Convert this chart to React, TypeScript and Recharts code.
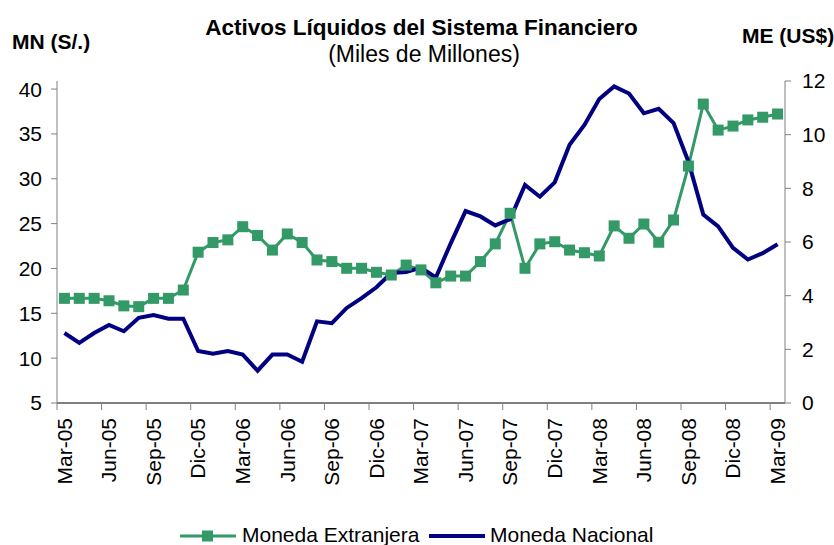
import { LineChart, Line, XAxis, YAxis } from "recharts";

const months = [
  "Mar-05", "Abr-05", "May-05", "Jun-05", "Jul-05", "Ago-05", "Sep-05", "Oct-05", "Nov-05", "Dic-05",
  "Ene-06", "Feb-06", "Mar-06", "Abr-06", "May-06", "Jun-06", "Jul-06", "Ago-06", "Sep-06", "Oct-06", "Nov-06", "Dic-06",
  "Ene-07", "Feb-07", "Mar-07", "Abr-07", "May-07", "Jun-07", "Jul-07", "Ago-07", "Sep-07", "Oct-07", "Nov-07", "Dic-07",
  "Ene-08", "Feb-08", "Mar-08", "Abr-08", "May-08", "Jun-08", "Jul-08", "Ago-08", "Sep-08", "Oct-08", "Nov-08", "Dic-08",
  "Ene-09", "Feb-09", "Mar-09",
];

// ME, miles de millones de US$ (eje derecho)
const monedaExtranjera = [
  3.9, 3.9, 3.9, 3.81, 3.62, 3.59, 3.9, 3.9, 4.21, 5.62,
  5.98, 6.08, 6.57, 6.24, 5.7, 6.3, 5.98, 5.33, 5.27, 5.02, 5.02, 4.87,
  4.77, 5.14, 4.96, 4.48, 4.73, 4.73, 5.27, 5.93, 7.07, 5.02, 5.93, 6.01,
  5.7, 5.6, 5.48, 6.6, 6.14, 6.67, 5.99, 6.82, 8.83, 11.14, 10.17, 10.32,
  10.55, 10.65, 10.77,
];

// MN, miles de millones de S/. (eje izquierdo)
const monedaNacional = [
  12.8, 11.7, 12.8, 13.7, 13.0, 14.5, 14.8, 14.4, 14.4, 10.8,
  10.5, 10.8, 10.4, 8.6, 10.4, 10.4, 9.6, 14.1, 13.9, 15.6, 16.7, 17.9,
  19.5, 19.6, 20.1, 19.0, 22.8, 26.4, 25.8, 24.8, 25.5, 29.3, 28.0, 29.6,
  33.8, 36.0, 38.9, 40.3, 39.5, 37.3, 37.8, 36.2, 31.9, 26.0, 24.7, 22.3,
  21.0, 21.7, 22.7,
];

const leftTicks = [5, 10, 15, 20, 25, 30, 35, 40];
const rightTicks = [0, 2, 4, 6, 8, 10, 12];

const data = months.map((m, i) => ({
  m,
  me: monedaExtranjera[i],
  mn: monedaNacional[i],
}));

const FONT = "'Liberation Sans', Arial, sans-serif";
const GREEN = "#339966";
const NAVY = "#000080";
const PLOT_W = 728;
const BAND = PLOT_W / months.length;

function XTick({ x, y, payload }: any) {
  const tx = x - BAND / 2;
  const ly = y + 15;
  return (
    <g>
      <line x1={tx} y1={y} x2={tx} y2={y + 7} stroke="#808080" />
      <text
        x={x}
        y={ly}
        transform={`rotate(-90 ${x} ${ly})`}
        textAnchor="end"
        dy="0.35em"
        fontSize={21}
        fontFamily={FONT}
        fill="#000"
      >
        {payload.value}
      </text>
    </g>
  );
}

function SquareDot({ cx, cy, index }: any) {
  if (cx == null || cy == null) return <g key={`e${index}`} />;
  return <rect key={`d${index}`} x={cx - 5.5} y={cy - 5.5} width={11} height={11} fill={GREEN} />;
}

export default function App() {
  return (
    <div style={{ position: "absolute", left: 0, top: 0, width: 834, height: 545, background: "#fff", fontFamily: FONT }}>
      <LineChart width={834} height={545} data={data} margin={{ top: 81, right: 0, bottom: 0, left: 0 }}>
        <XAxis
          dataKey="m"
          scale="band"
          interval={2}
          height={142}
          tickSize={0}
          tickMargin={0}
          tickLine={false}
          axisLine={{ stroke: "#000" }}
          tick={(p: any) => <XTick {...p} />}
        />
        <YAxis
          yAxisId="left"
          width={57}
          domain={[5, 40.9]}
          ticks={leftTicks}
          allowDataOverflow
          tickSize={6}
          tickMargin={9}
          axisLine={{ stroke: "#808080" }}
          tickLine={{ stroke: "#808080" }}
          tick={{ fontSize: 21, fill: "#000", fontFamily: FONT }}
        />
        <YAxis
          yAxisId="right"
          orientation="right"
          width={49}
          domain={[0, 12]}
          ticks={rightTicks}
          tickSize={6}
          tickMargin={11}
          axisLine={{ stroke: "#808080" }}
          tickLine={{ stroke: "#808080" }}
          tick={{ fontSize: 21, fill: "#000", fontFamily: FONT }}
        />
        <Line
          yAxisId="right"
          dataKey="me"
          name="Moneda Extranjera"
          type="linear"
          stroke={GREEN}
          strokeWidth={3}
          dot={(p: any) => <SquareDot key={`d${p.index}`} {...p} />}
          activeDot={false}
          isAnimationActive={false}
        />
        <Line
          yAxisId="left"
          dataKey="mn"
          name="Moneda Nacional"
          type="linear"
          stroke={NAVY}
          strokeWidth={4}
          dot={false}
          activeDot={false}
          isAnimationActive={false}
        />
      </LineChart>
      <svg width={834} height={545} style={{ position: "absolute", left: 0, top: 0, pointerEvents: "none" }}>
        <g fontFamily={FONT} fill="#000">
          <text x={421.5} y={35} fontSize={22.5} fontWeight="bold" textAnchor="middle">
            Activos Líquidos del Sistema Financiero
          </text>
          <text x={424} y={62} fontSize={23} textAnchor="middle">
            (Miles de Millones)
          </text>
          <text x={12} y={49} fontSize={21} fontWeight="bold">
            MN (S/.)
          </text>
          <text x={742} y={43} fontSize={21} fontWeight="bold">
            ME (US$)
          </text>
          <line x1={180} y1={536} x2={236} y2={536} stroke={GREEN} strokeWidth={3} />
          <rect x={202} y={530.5} width={11} height={11} fill={GREEN} />
          <text x={242} y={542} fontSize={21}>Moneda Extranjera</text>
          <line x1={429} y1={536} x2={485} y2={536} stroke={NAVY} strokeWidth={4} />
          <text x={490} y={542} fontSize={21}>Moneda Nacional</text>
        </g>
      </svg>
    </div>
  );
}
